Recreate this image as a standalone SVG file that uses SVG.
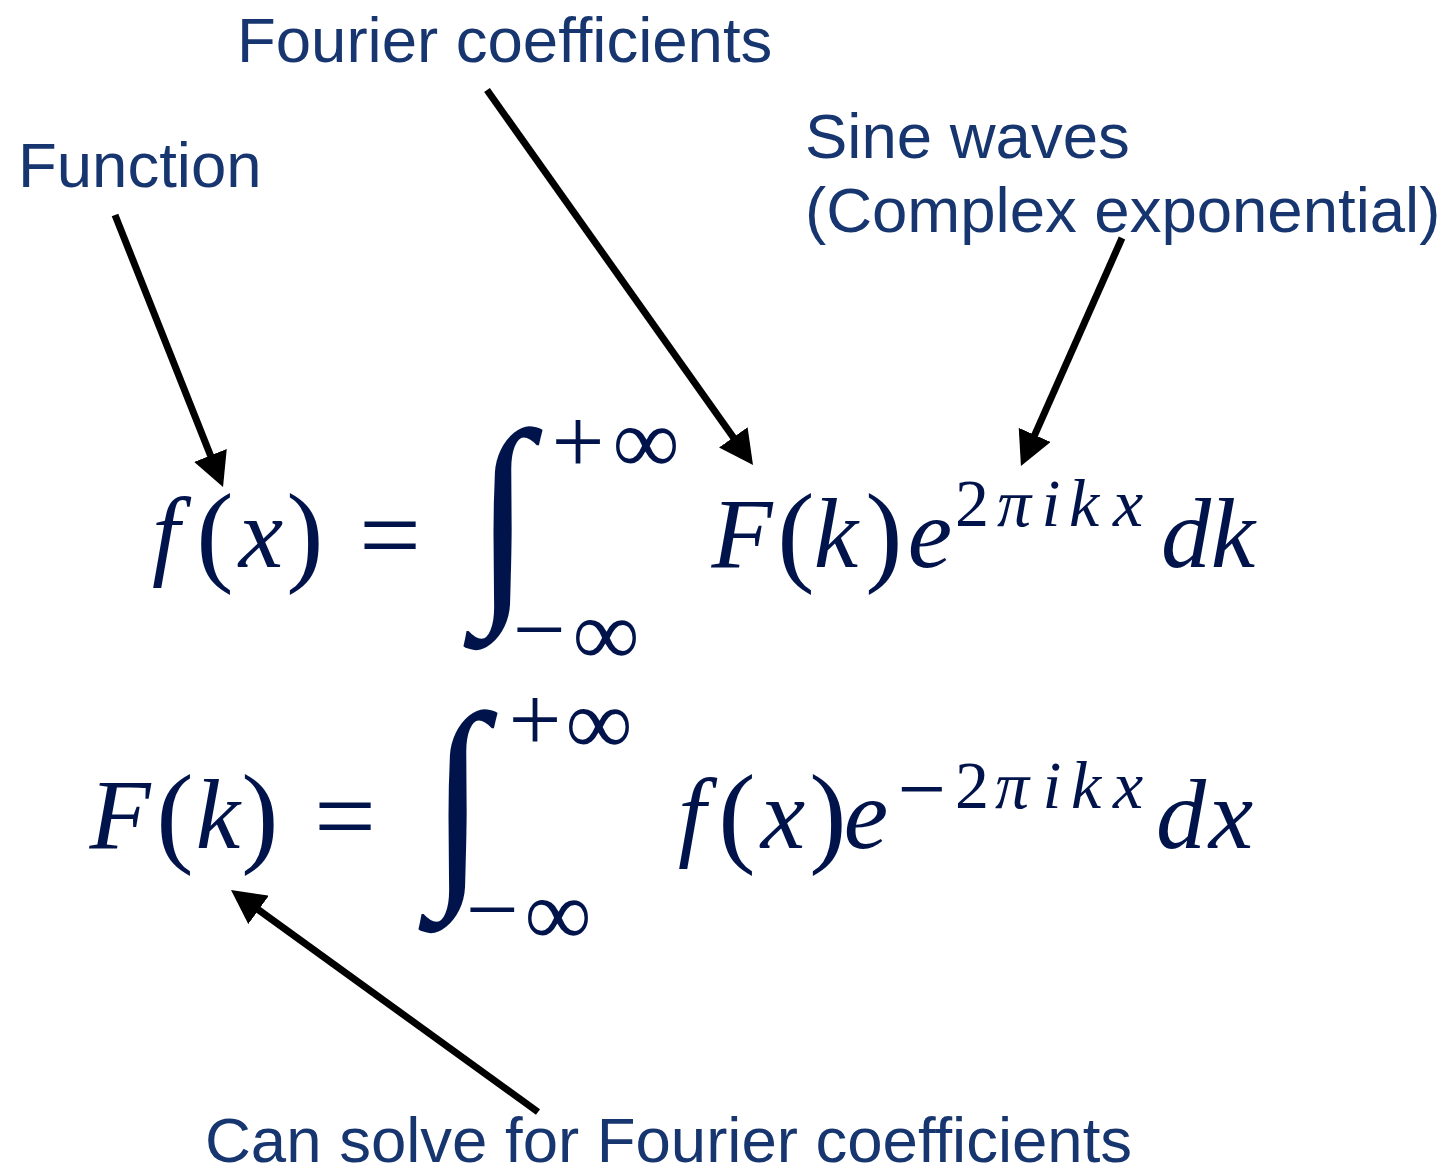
<svg xmlns="http://www.w3.org/2000/svg" width="1452" height="1169" viewBox="0 0 1452 1169">
<style>
.lbl{font-family:"Liberation Sans",Arial,sans-serif;font-size:63.5px;fill:#17366F}
.m{font-family:"Liberation Serif","Times New Roman",serif;fill:#00144B;text-anchor:middle}
.i{font-style:italic;font-size:100px}
.p{font-size:112px}
.eq{font-size:110px}
.lim{font-size:94px}
.sup{font-style:italic;font-size:68px}
.supn{font-size:68px}
.supm{font-size:86px}
.int{font-style:italic;font-size:190px}
.arrow{stroke:#000;stroke-width:7;fill:none;marker-end:url(#head)}
</style>
<defs>
<marker id="head" markerUnits="userSpaceOnUse" viewBox="0 0 34 35" markerWidth="34" markerHeight="35" refX="6" refY="17.5" orient="auto">
<path d="M0,0 L34,17.5 L0,35 Z" fill="#000"/>
</marker>
</defs>
<rect width="1452" height="1169" fill="#fff"/>
<g id="label-fourier"><text class="lbl" x="237" y="62">Fourier coefficients</text></g>
<g id="label-function"><text class="lbl" x="18" y="187">Function</text></g>
<g id="label-sine"><text class="lbl" x="805" y="158">Sine waves</text><text class="lbl" x="805" y="232">(Complex exponential)</text></g>
<g id="label-solve"><text class="lbl" x="205" y="1162">Can solve for Fourier coefficients</text></g>
<g id="equation-1">
<text class="m i" x="166" y="567">f</text>
<text class="m p" x="215" y="571">(</text>
<text class="m i" x="261" y="567">x</text>
<text class="m p" x="305" y="571">)</text>
<text class="m eq" x="390" y="572">=</text>
<text class="m int" transform="translate(503,589) scale(1.1,1.2)" x="0" y="0">∫</text>
<text class="m lim" x="578" y="473">+</text>
<text class="m lim" x="646" y="473">∞</text>
<text class="m lim" x="539" y="661">−</text>
<text class="m lim" x="606" y="665">∞</text>
<text class="m i" x="742" y="567">F</text>
<text class="m p" x="796" y="571">(</text>
<text class="m i" x="836" y="567">k</text>
<text class="m p" x="884" y="571">)</text>
<text class="m i" x="930" y="567">e</text>
<text class="m supn" x="972" y="526">2</text>
<text class="m sup" x="1014" y="526">π</text>
<text class="m sup" x="1051" y="526">i</text>
<text class="m sup" x="1084" y="526">k</text>
<text class="m sup" x="1128" y="526">x</text>
<text class="m i" x="1186" y="567">d</text>
<text class="m i" x="1233" y="567">k</text>
</g>
<g id="equation-2">
<text class="m i" x="120" y="848">F</text>
<text class="m p" x="175" y="852">(</text>
<text class="m i" x="218" y="848">k</text>
<text class="m p" x="260" y="852">)</text>
<text class="m eq" x="345" y="853">=</text>
<text class="m int" transform="translate(458,872) scale(1.1,1.2)" x="0" y="0">∫</text>
<text class="m lim" x="535" y="751">+</text>
<text class="m lim" x="599" y="754">∞</text>
<text class="m lim" x="492" y="941">−</text>
<text class="m lim" x="558" y="945">∞</text>
<text class="m i" x="692" y="848">f</text>
<text class="m p" x="737" y="852">(</text>
<text class="m i" x="783" y="848">x</text>
<text class="m p" x="828" y="852">)</text>
<text class="m i" x="866" y="848">e</text>
<text class="m supm" x="922" y="818">−</text>
<text class="m supn" x="972" y="808">2</text>
<text class="m sup" x="1012" y="808">π</text>
<text class="m sup" x="1052" y="808">i</text>
<text class="m sup" x="1086" y="808">k</text>
<text class="m sup" x="1128" y="808">x</text>
<text class="m i" x="1181" y="848">d</text>
<text class="m i" x="1231" y="848">x</text>
</g>
<g id="connectors">
<line class="arrow" x1="115" y1="215" x2="212.7" y2="461"/>
<line class="arrow" x1="487" y1="90" x2="736.8" y2="442.2"/>
<line class="arrow" x1="1122" y1="238" x2="1032.3" y2="440.4"/>
<line class="arrow" x1="538" y1="1112" x2="253.7" y2="906.4"/>
</g>
</svg>
